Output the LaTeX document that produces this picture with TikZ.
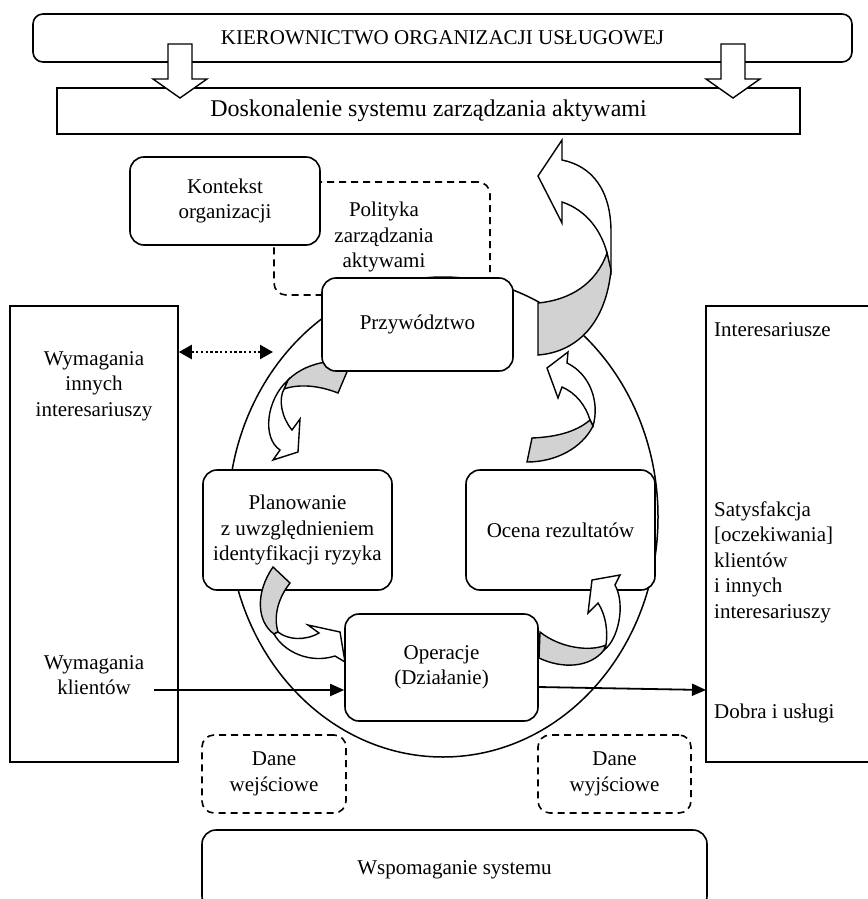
\documentclass[tikz,border=0pt]{standalone}
\usepackage{fontspec}
\setmainfont{Liberation Serif}
\usetikzlibrary{arrows.meta}
\begin{document}
\begin{tikzpicture}[x=1pt,y=-1pt,
  every node/.style={font=\fontsize{21pt}{25.5pt}\selectfont, inner sep=0pt},
  lw/.style={line width=1.6pt},
  rbox/.style={draw, lw, fill=white, rounded corners=14pt, align=center},
  sbox/.style={draw, lw, fill=white, align=center},
  dbox/.style={draw, lw, rounded corners=12pt, dash pattern=on 7pt off 5pt, align=center},
  lbl/.style={align=center},
  lbll/.style={align=left, anchor=west},
  ribw/.style={draw, line width=1.4pt, fill=white, line join=miter},
  ribg/.style={draw, line width=1.4pt, fill=gray!35, line join=miter},
  arr/.style={line width=1.8pt, -{Triangle[length=14pt,width=12pt]}},
  dotarr/.style={line width=2.4pt, dash pattern=on 2.4pt off 2.4pt, {Triangle[length=13pt,width=14pt]}-{Triangle[length=13pt,width=14pt]}},
]
\useasboundingbox (0,0) rectangle (867,899);

% top boxes
\node[rbox, rounded corners=10pt, minimum width=819pt, minimum height=48pt] (kier) at (442.5,38) {KIEROWNICTWO ORGANIZACJI USŁUGOWEJ};
\node[sbox, minimum width=743pt, minimum height=46pt, font=\fontsize{24pt}{28pt}\selectfont] (dosk) at (428.5,111) {Doskonalenie systemu zarządzania aktywami};
\draw[ribw] (168,44) -- (192,44) -- (192,79) -- (207,79) -- (180,98) -- (153,79) -- (168,79) -- cycle;
\draw[ribw] (721,44) -- (745,44) -- (745,79) -- (760,79) -- (733,98) -- (706,79) -- (721,79) -- cycle;

% side boxes
\node[sbox, minimum width=168pt, minimum height=456pt] (lb) at (94,534) {};
\node[sbox, minimum width=174pt, minimum height=456pt] (rb) at (793,534) {};
\node[lbl] (wi) at (94,386) {Wymagania\\innych\\interesariuszy};
\node[lbl] (wk) at (94,675) {Wymagania\\klientów};
\node[lbll] (int) at (714,330) {Interesariusze};
\node[lbll] (sat) at (714,562) {Satysfakcja\\{[oczekiwania]}\\klientów\\i innych\\interesariuszy};
\node[lbll] (dob) at (714,713) {Dobra i usługi};

% ellipse and policy box
\draw[line width=1.5pt] (443,517) ellipse [x radius=215pt, y radius=240pt];
\node[dbox, minimum width=216pt, minimum height=113pt] (polbox) at (382,238.5) {};
\node[lbl] (pol) at (384,237) {Polityka\\zarządzania\\aktywami};

% top-right big arrow
\draw[ribw] (611,275) -- (611,232) .. controls (611,190) and (592,166) .. (562,160) -- (562,140) -- (538,176) -- (562,223) -- (562,202) .. controls (586,210) and (601,230) .. (607,253) -- cycle;
\draw[ribg] (607,253) .. controls (596,284) and (570,300) .. (538,303) -- (538,355) .. controls (578,352) and (606,322) .. (611,270) -- cycle;

% arrow A: leadership -> planning
\draw[ribg] (288,380) .. controls (298,370) and (312,364) .. (326,362) -- (352,360) -- (338,393) .. controls (318,385) and (298,384) .. (284,389) -- cycle;
\draw[ribw] (288,380) .. controls (266,400) and (262,438) .. (280,450) -- (273,460) -- (298,452) -- (300,419) -- (292,430) .. controls (282,418) and (278,400) .. (284,389) -- cycle;

% arrow B: evaluation -> leadership
\draw[ribw] (593,426) .. controls (600,402) and (590,374) .. (567,363) -- (568,352) -- (547,368) -- (558,398) -- (562,387) .. controls (576,393) and (586,406) .. (590,420) -- cycle;
\draw[ribg] (590,420) .. controls (576,432) and (556,437) .. (532,438) -- (527,462) .. controls (556,462) and (582,448) .. (593,426) -- cycle;

% main boxes
\node[rbox, minimum width=190pt, minimum height=88pt] (kon) at (225,201) {Kontekst\\organizacji};
\node[rbox, minimum width=191pt, minimum height=93pt] (prz) at (417.5,324.5) {Przywództwo};
\node[rbox, minimum width=189pt, minimum height=120pt] (pla) at (297.5,530) {Planowanie\\z uwzględnieniem\\identyfikacji ryzyka};
\node[rbox, minimum width=189pt, minimum height=120pt] (oce) at (560.5,530) {Ocena rezultatów};
\node[rbox, minimum width=193pt, minimum height=107pt] (ope) at (441.5,667.5) {Operacje\\(Działanie)};

% arrow C: planning -> operations
\draw[ribg] (273,567) -- (290,583) .. controls (279,597) and (273,615) .. (278,632) -- (274,634) .. controls (257,622) and (255,593) .. (273,567) -- cycle;
\draw[ribw] (274,634) .. controls (284,652) and (310,664) .. (335,656) -- (345,662) -- (340,632) -- (308,625) -- (319,633) .. controls (305,641) and (288,640) .. (278,632) -- cycle;

% arrow D: operations -> evaluation
\draw[ribg] (540,632) .. controls (560,648) and (590,652) .. (606,645) -- (604,650) .. controls (590,668) and (562,669) .. (539,658) -- cycle;
\draw[ribw] (604,650) .. controls (618,640) and (626,605) .. (615,585) -- (620,575) -- (592,580) -- (588,613) -- (598,603) .. controls (606,615) and (608,632) .. (606,645) -- cycle;

% data boxes and support
\node[dbox, minimum width=144pt, minimum height=78pt] (dwe) at (274,774) {Dane\\wejściowe};
\node[dbox, minimum width=153pt, minimum height=78pt] (dwy) at (614.5,774) {Dane\\wyjściowe};
\node[rbox, minimum width=505pt, minimum height=80pt] (wsp) at (454.5,870) {Wspomaganie systemu};

% connectors
\coordinate (wkstart) at (154,690);
\draw[arr] (wkstart) -- (wkstart -| ope.west);
\coordinate (opeout) at (538,687);
\coordinate (dobin) at (706,690);
\draw[arr] (opeout) -- (dobin);
\coordinate (dotend) at (273,352);
\draw[dotarr] (lb.east |- dotend) -- (dotend);
\end{tikzpicture}
\end{document}
